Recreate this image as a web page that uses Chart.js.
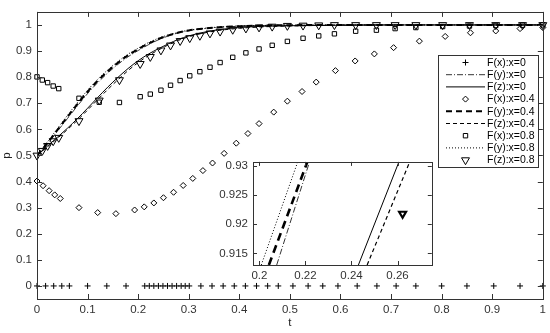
<!DOCTYPE html>
<html>
<head>
<meta charset="utf-8">
<script src="https://cdn.jsdelivr.net/npm/chart.js@4.4.1/dist/chart.umd.min.js"></script>
<style>
    html, body { margin: 0; padding: 0; background: #fff; }
    #wrap { position: relative; width: 550px; height: 333px; }
    #mainChart { position: absolute; left: 0; top: 0; }
    #insetChart { position: absolute; left: 215px; top: 150px; }
</style>
</head>
<body>
<div id="wrap">
    <canvas id="mainChart" width="550" height="333"></canvas>
    <canvas id="insetChart" width="223" height="140"></canvas>
</div>
<script>
// Tick labels
const xTicks = [0, 0.1, 0.2, 0.3, 0.4, 0.5, 0.6, 0.7, 0.8, 0.9, 1];
const yTicks = [0, 0.1, 0.2, 0.3, 0.4, 0.5, 0.6, 0.7, 0.8, 0.9, 1];
const insetXTicks = [0.2, 0.22, 0.24, 0.26];
const insetYTicks = [0.915, 0.92, 0.925, 0.93];

// x = 0 run (solver steps) -> F(x) markers
const t0 = [0, 0.017, 0.033, 0.049, 0.064, 0.100, 0.138, 0.176, 0.213, 0.222, 0.231, 0.240, 0.249, 0.258,
    0.267, 0.276, 0.285, 0.293, 0.301, 0.324, 0.346, 0.368, 0.390, 0.412, 0.434, 0.456, 0.477, 0.506,
    0.536, 0.565, 0.595, 0.633, 0.672, 0.710, 0.749, 0.800, 0.850, 0.903, 0.955, 1.0];
const pFx0 = [0, 0, 0, 0, 0, 0, 0, 0, 0, 0, 0, 0, 0, 0, 0, 0, 0, 0, 0, 0,
    0, 0, 0, 0, 0, 0, 0, 0, 0, 0, 0, 0, 0, 0, 0, 0, 0, 0, 0, 0];

// x = 0.4 run -> F(x) markers
const t4 = [0, 0.012, 0.024, 0.035, 0.046, 0.083, 0.120, 0.156, 0.193, 0.212, 0.231, 0.250, 0.270, 0.289,
    0.308, 0.328, 0.347, 0.370, 0.394, 0.417, 0.439, 0.468, 0.495, 0.524, 0.552, 0.590, 0.629, 0.667,
    0.705, 0.756, 0.807, 0.857, 0.907, 0.955, 1.0];
const pFx4 = [0.402, 0.384, 0.365, 0.349, 0.335, 0.300, 0.281, 0.277, 0.291, 0.303, 0.318, 0.338, 0.359, 0.385,
    0.412, 0.442, 0.471, 0.508, 0.547, 0.584, 0.622, 0.666, 0.708, 0.745, 0.781, 0.825, 0.862, 0.889,
    0.913, 0.938, 0.956, 0.970, 0.977, 0.986, 0.990];

// x = 0.8 run -> F(x) squares, F(z) triangles
const t8 = [0, 0.0105, 0.021, 0.032, 0.043, 0.083, 0.123, 0.163, 0.204, 0.224, 0.245, 0.264, 0.283, 0.302,
    0.322, 0.342, 0.362, 0.387, 0.413, 0.439, 0.465, 0.495, 0.526, 0.557, 0.588, 0.630, 0.671, 0.708,
    0.749, 0.802, 0.855, 0.907, 0.960, 1.0];
const pFx8 = [0.801, 0.789, 0.779, 0.766, 0.756, 0.719, 0.704, 0.703, 0.725, 0.735, 0.750, 0.769, 0.787, 0.805,
    0.821, 0.838, 0.856, 0.876, 0.893, 0.908, 0.922, 0.937, 0.949, 0.958, 0.966, 0.976, 0.980, 0.986,
    0.990, 0.994, 0.996, 0.998, 0.999, 1.0];
const pFz8 = [0.5, 0.518, 0.537, 0.555, 0.568, 0.632, 0.711, 0.789, 0.851, 0.878, 0.903, 0.922, 0.939, 0.950,
    0.959, 0.968, 0.975, 0.982, 0.987, 0.991, 0.994, 0.997, 0.998, 0.999, 1, 1, 1, 1,
    1, 1, 1, 1, 1, 1];

// Curves (read at these times)
const tLine = [0, 0.02, 0.04, 0.06, 0.08, 0.1, 0.12, 0.14, 0.16, 0.18, 0.2, 0.22, 0.24, 0.26, 0.28, 0.3,
    0.33, 0.36, 0.4, 0.45, 0.5, 0.6, 0.7, 0.8, 0.9, 1];
const pFy0 = [0.5, 0.542, 0.592, 0.641, 0.690, 0.737, 0.779, 0.816, 0.849, 0.878, 0.902, 0.924, 0.943, 0.958, 0.970, 0.978,
    0.986, 0.991, 0.995, 0.998, 0.999, 1, 1, 1, 1, 1];
const pFz0 = [0.5, 0.535, 0.569, 0.604, 0.641, 0.681, 0.722, 0.762, 0.799, 0.833, 0.863, 0.888, 0.909, 0.928, 0.945, 0.958,
    0.972, 0.982, 0.990, 0.995, 0.997, 0.999, 1, 1, 1, 1];
const pFy4 = [0.5, 0.546, 0.597, 0.647, 0.697, 0.744, 0.786, 0.823, 0.855, 0.884, 0.907, 0.928, 0.946, 0.960, 0.971, 0.979,
    0.986, 0.991, 0.995, 0.998, 0.999, 1, 1, 1, 1, 1];
const pFz4 = [0.5, 0.532, 0.565, 0.599, 0.635, 0.674, 0.714, 0.753, 0.790, 0.825, 0.856, 0.882, 0.904, 0.924, 0.941, 0.955,
    0.969, 0.979, 0.987, 0.993, 0.996, 0.999, 1, 1, 1, 1];
const pFy8 = [0.5, 0.550, 0.602, 0.653, 0.703, 0.750, 0.792, 0.828, 0.860, 0.888, 0.911, 0.932, 0.949, 0.962, 0.972, 0.980,
    0.987, 0.992, 0.996, 0.998, 0.999, 1, 1, 1, 1, 1];

// Inset (zoom around p = 0.92)
const insetP = [0.913, 0.931];
const insetTFy0 = [0.2075, 0.2220];
const insetTFz0 = [0.2430, 0.2609];
const insetTFy4 = [0.2041, 0.2211];
const insetTFz4 = [0.2468, 0.2656];
const insetTFy8 = [0.2008, 0.2169];
const insetTriT = [0.2622];
const insetTriP = [0.9218];

const FONT = '"Liberation Sans", Arial, Helvetica, sans-serif';
const AXIS_COLOR = '#333';
Chart.defaults.font.family = FONT;
Chart.defaults.font.size = 11.5;
Chart.defaults.color = '#333';

const pts = (ts, ps) => ts.map((t, i) => ({ x: t, y: ps[i] }));

function lineSet(label, ts, ps, width, dash) {
    return {
        label, data: pts(ts, ps), showLine: true,
        borderColor: '#000', borderWidth: width, borderDash: dash,
        pointRadius: 0, cubicInterpolationMode: 'monotone', fill: false
    };
}

function markSet(label, ts, ps, style, radius, rotation, width) {
    return {
        label, data: pts(ts, ps), showLine: false,
        pointStyle: style, pointRadius: radius, pointRotation: rotation || 0,
        pointBorderColor: '#000', pointBackgroundColor: 'rgba(0,0,0,0)',
        pointBorderWidth: width || 1, clip: false
    };
}

// Frame and inward ticks on all four sides (MATLAB look)
const framePlugin = {
    id: 'frame',
    afterDatasetsDraw(chart, args, opts) {
        const { ctx, chartArea: a, scales } = chart;
        const len = opts.tickLen || 5;
        ctx.save();
        ctx.strokeStyle = AXIS_COLOR;
        ctx.lineWidth = 1;
        ctx.setLineDash([]);
        ctx.beginPath();
        scales.x.ticks.forEach(tk => {
            const x = Math.round(scales.x.getPixelForValue(tk.value)) + 0.5;
            ctx.moveTo(x, a.bottom); ctx.lineTo(x, a.bottom - len);
            ctx.moveTo(x, a.top); ctx.lineTo(x, a.top + len);
        });
        scales.y.ticks.forEach(tk => {
            const y = Math.round(scales.y.getPixelForValue(tk.value)) + 0.5;
            ctx.moveTo(a.left, y); ctx.lineTo(a.left + len, y);
            ctx.moveTo(a.right, y); ctx.lineTo(a.right - len, y);
        });
        ctx.stroke();
        ctx.strokeRect(Math.round(a.left) + 0.5, Math.round(a.top) + 0.5,
            Math.round(a.right - a.left), Math.round(a.bottom - a.top));
        ctx.restore();
    }
};

// White plot area for the inset
const whiteArea = {
    id: 'whiteArea',
    beforeDatasetsDraw(chart) {
        const { ctx, chartArea: a } = chart;
        ctx.save();
        ctx.fillStyle = '#fff';
        ctx.fillRect(a.left, a.top, a.right - a.left, a.bottom - a.top);
        ctx.restore();
    }
};

function drawMarker(ctx, style, x, y, r, rot) {
    ctx.beginPath();
    if (style === 'cross') {
        ctx.moveTo(x - r, y); ctx.lineTo(x + r, y);
        ctx.moveTo(x, y - r); ctx.lineTo(x, y + r);
    } else if (style === 'rectRot') {
        ctx.moveTo(x, y - r); ctx.lineTo(x + r, y); ctx.lineTo(x, y + r); ctx.lineTo(x - r, y); ctx.closePath();
    } else if (style === 'rect') {
        const s = r * Math.SQRT1_2;
        ctx.rect(x - s, y - s, 2 * s, 2 * s);
    } else if (style === 'triangle') {
        let rad = (rot || 0) * Math.PI / 180;
        for (let k = 0; k < 3; k++) {
            const px = x + Math.sin(rad) * r, py = y - Math.cos(rad) * r;
            if (k === 0) ctx.moveTo(px, py); else ctx.lineTo(px, py);
            rad += 2 * Math.PI / 3;
        }
        ctx.closePath();
    }
    ctx.stroke();
}

// Boxed legend inside the plot, top right
const boxLegend = {
    id: 'boxLegend',
    afterDraw(chart) {
        const { ctx } = chart;
        const bx = 438.5, by = 55.5, bw = 100, bh = 112;
        ctx.save();
        ctx.fillStyle = '#fff';
        ctx.fillRect(bx, by, bw, bh);
        ctx.strokeStyle = AXIS_COLOR;
        ctx.lineWidth = 1;
        ctx.strokeRect(bx, by, bw, bh);
        ctx.font = '10.5px ' + FONT;
        ctx.textBaseline = 'middle';
        chart.data.datasets.forEach((ds, i) => {
            const y = 62.5 + i * 12.2;
            ctx.strokeStyle = '#000';
            if (ds.showLine) {
                ctx.lineWidth = ds.borderWidth;
                ctx.setLineDash(ds.borderDash || []);
                ctx.beginPath();
                ctx.moveTo(446, y); ctx.lineTo(485, y);
                ctx.stroke();
            } else {
                ctx.lineWidth = ds.pointBorderWidth;
                ctx.setLineDash([]);
                drawMarker(ctx, ds.pointStyle, 465.5, y, ds.pointRadius, ds.pointRotation);
            }
            ctx.setLineDash([]);
            ctx.fillStyle = '#000';
            ctx.fillText(ds.label, 487, y + 0.5);
        });
        ctx.restore();
    }
};

new Chart(document.getElementById('mainChart'), {
    type: 'scatter',
    data: {
        datasets: [
            markSet('F(x):x=0', t0, pFx0, 'cross', 3),
            lineSet('F(y):x=0', tLine, pFy0, 0.8, [6, 2, 1, 2]),
            lineSet('F(z):x=0', tLine, pFz0, 1, []),
            markSet('F(x):x=0.4', t4, pFx4, 'rectRot', 3),
            lineSet('F(y):x=0.4', tLine, pFy4, 2, [6, 4]),
            lineSet('F(z):x=0.4', tLine, pFz4, 1, [4, 3]),
            markSet('F(x):x=0.8', t8, pFx8, 'rect', 3.1),
            lineSet('F(y):x=0.8', tLine, pFy8, 1, [1, 2]),
            markSet('F(z):x=0.8', t8, pFz8, 'triangle', 4.6, 180)
        ]
    },
    options: {
        animation: false,
        responsive: false,
        devicePixelRatio: 1,
        events: [],
        layout: { padding: { top: 4, right: 6, left: 0, bottom: 0 } },
        plugins: {
            legend: { display: false },
            tooltip: { enabled: false },
            frame: { tickLen: 5 }
        },
        scales: {
            x: {
                type: 'linear', min: 0, max: 1,
                afterBuildTicks: s => { s.ticks = xTicks.map(v => ({ value: v })); },
                afterFit: s => { s.height = 34; },
                grid: { display: false, drawTicks: false },
                border: { display: false },
                ticks: { autoSkip: false, maxRotation: 0, padding: 4, callback: v => String(v) },
                title: { display: true, text: 't', color: '#222', padding: { top: 0, bottom: 3 } }
            },
            y: {
                type: 'linear', min: -0.05, max: 1.05,
                afterBuildTicks: s => { s.ticks = yTicks.map(v => ({ value: v })); },
                afterFit: s => { s.width = 37; },
                grid: { display: false, drawTicks: false },
                border: { display: false },
                ticks: { autoSkip: false, padding: 5, callback: v => String(v) },
                title: { display: true, text: 'p', color: '#222', padding: { top: 0, bottom: 0 } }
            }
        }
    },
    plugins: [framePlugin, boxLegend]
});

new Chart(document.getElementById('insetChart'), {
    type: 'scatter',
    data: {
        datasets: [
            lineSet('F(y):x=0', insetTFy0, insetP, 0.8, [6, 2, 1, 2]),
            lineSet('F(z):x=0', insetTFz0, insetP, 1, []),
            lineSet('F(y):x=0.4', insetTFy4, insetP, 2.6, [8, 5]),
            lineSet('F(z):x=0.4', insetTFz4, insetP, 1.2, [4, 3]),
            lineSet('F(y):x=0.8', insetTFy8, insetP, 1, [1, 2]),
            Object.assign(markSet('F(z):x=0.8', insetTriT, insetTriP, 'triangle', 4, 180, 2.2), { clip: true })
        ]
    },
    options: {
        animation: false,
        responsive: false,
        devicePixelRatio: 1,
        events: [],
        layout: { padding: { top: 4, right: 4, left: 0, bottom: 0 } },
        plugins: {
            legend: { display: false },
            tooltip: { enabled: false },
            frame: { tickLen: 4 }
        },
        scales: {
            x: {
                type: 'linear', min: 0.1972, max: 0.2749,
                afterBuildTicks: s => { s.ticks = insetXTicks.map(v => ({ value: v })); },
                afterFit: s => { s.height = 25; },
                grid: { display: false, drawTicks: false },
                border: { display: false },
                ticks: { autoSkip: false, maxRotation: 0, padding: 4, callback: v => String(v) }
            },
            y: {
                type: 'linear', min: 0.913, max: 0.9307,
                afterBuildTicks: s => { s.ticks = insetYTicks.map(v => ({ value: v })); },
                afterFit: s => { s.width = 38; },
                grid: { display: false, drawTicks: false },
                border: { display: false },
                ticks: { autoSkip: false, padding: 5, callback: v => String(v) }
            }
        }
    },
    plugins: [whiteArea, framePlugin]
});
</script>
</body>
</html>
